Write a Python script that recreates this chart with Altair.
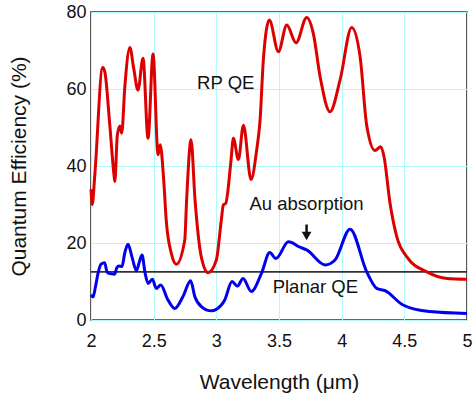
import altair as alt
import pandas as pd

# RP QE (red)
red_x = [2.000, 2.010, 2.030, 2.093, 2.110, 2.150, 2.184, 2.190, 2.210, 2.230,
         2.245, 2.270, 2.310, 2.340, 2.375, 2.415, 2.455, 2.495, 2.535, 2.552,
         2.580, 2.600, 2.641, 2.681, 2.748, 2.763, 2.798, 2.830, 2.880, 2.934,
         3.000, 3.040, 3.056, 3.075, 3.115, 3.136, 3.176, 3.216, 3.277, 3.322,
         3.349, 3.375, 3.423, 3.495, 3.562, 3.636, 3.721, 3.774, 3.828, 3.907,
         3.987, 4.080, 4.147, 4.200, 4.266, 4.312, 4.338, 4.386, 4.440, 4.520,
         4.680, 4.840, 5.000]
red_y = [34.0, 30.0, 37.5, 65.6, 64.5, 50.6, 37.5, 36.0, 48.0, 50.4,
         48.5, 60.6, 70.8, 65.5, 59.7, 68.0, 47.2, 69.1, 42.9, 45.5,
         36.4, 26.0, 17.3, 14.5, 20.8, 31.2, 46.8, 31.2, 16.4, 12.3,
         15.6, 26.0, 29.9, 30.3, 40.7, 47.2, 41.7, 50.6, 36.5, 44.2,
         51.9, 67.5, 77.9, 69.7, 76.6, 72.0, 78.6, 74.4, 63.2, 54.1,
         62.3, 76.0, 68.4, 50.5, 44.0, 45.0, 42.4, 30.3, 21.6, 16.4,
         12.5, 10.8, 10.6]

# Planar QE (blue)
blue_x = [2.000, 2.016, 2.035, 2.056, 2.080, 2.109, 2.125, 2.141, 2.189, 2.205,
          2.221, 2.247, 2.270, 2.295, 2.330, 2.362, 2.385, 2.407, 2.430, 2.455,
          2.490, 2.521, 2.556, 2.614, 2.668, 2.734, 2.795, 2.828, 2.880, 2.960,
          3.040, 3.067, 3.125, 3.168, 3.213, 3.279, 3.360, 3.426, 3.476, 3.575,
          3.668, 3.721, 3.868, 3.947, 4.067, 4.200, 4.280, 4.346, 4.490, 4.700,
          5.000]
blue_y = [6.5, 6.0, 8.5, 12.1, 14.5, 14.9, 12.8, 12.1, 11.9, 13.5,
          14.0, 13.9, 17.5, 19.7, 16.0, 12.8, 15.0, 16.9, 12.5, 9.5,
          10.6, 8.2, 9.1, 5.2, 3.0, 6.1, 10.2, 6.1, 3.5, 2.4,
          3.9, 5.2, 10.0, 8.8, 10.8, 7.4, 12.1, 17.5, 16.0, 20.3,
          18.9, 18.2, 14.3, 15.6, 23.6, 12.5, 8.2, 7.6, 3.9, 2.2,
          1.7]

ref_level = [12.5]
x_ticks = [2, 2.5, 3, 3.5, 4, 4.5, 5]
y_ticks = [0, 20, 40, 60, 80]

label_text = ["RP QE", "Au absorption", "Planar QE"]
label_x = [3.075, 3.72, 3.79]
label_y = [61.5, 30.1, 8.5]

arrow_x = [3.72]
arrow_top = [24.8]
arrow_bottom = [22.0]
arrow_head = [21.8]

FONT = "Liberation Sans"

red_df = pd.DataFrame({"x": red_x, "y": red_y})
blue_df = pd.DataFrame({"x": blue_x, "y": blue_y})
ref_df = pd.DataFrame({"y": ref_level})
lab_df = pd.DataFrame({"x": label_x, "y": label_y, "t": label_text})
arr_df = pd.DataFrame({"x": arrow_x, "y": arrow_top, "y2": arrow_bottom, "h": arrow_head})

xscale = alt.Scale(domain=[2, 5], nice=False, zero=False)
yscale = alt.Scale(domain=[0, 80], nice=False)

xaxis = alt.Axis(values=x_ticks, format="~g", title="Wavelength (μm)",
                 grid=True, gridColor="#b0fafa", gridWidth=1,
                 domain=False, ticks=False, labelFlush=False,
                 labelFontSize=18, labelPadding=12, labelColor="#111",
                 titleFontSize=21, titleFontWeight="normal", titleColor="#111",
                 titleY=68, titleBaseline="alphabetic")
yaxis = alt.Axis(values=y_ticks, format="d", title="Quantum Efficiency (%)",
                 grid=True, gridColor="#b0fafa", gridWidth=1,
                 domain=False, ticks=False,
                 labelFontSize=18, labelPadding=5, labelColor="#111",
                 titleFontSize=21, titleFontWeight="normal", titleColor="#111",
                 titleX=-72, titleY=154, titleAngle=-90,
                 titleAlign="center", titleBaseline="middle")

base_axes = alt.Chart(red_df).mark_line(opacity=0).encode(
    x=alt.X("x:Q", scale=xscale, axis=xaxis),
    y=alt.Y("y:Q", scale=yscale, axis=yaxis),
)

ref_line = alt.Chart(ref_df).mark_rule(color="#333", strokeWidth=1.6).encode(
    y=alt.Y("y:Q", scale=yscale),
    x=alt.value(0), x2=alt.value(376),
)

blue_line = alt.Chart(blue_df).mark_line(color="#0000ee", strokeWidth=3,
                                         interpolate="monotone").encode(
    x=alt.X("x:Q", scale=xscale), y=alt.Y("y:Q", scale=yscale))

red_line = alt.Chart(red_df).mark_line(color="#dd0000", strokeWidth=3,
                                       interpolate="monotone").encode(
    x=alt.X("x:Q", scale=xscale), y=alt.Y("y:Q", scale=yscale))

labels = alt.Chart(lab_df).mark_text(font=FONT, fontSize=18.5, color="#111",
                                     align="center", baseline="middle").encode(
    x=alt.X("x:Q", scale=xscale), y=alt.Y("y:Q", scale=yscale), text="t:N")

arrow_shaft = alt.Chart(arr_df).mark_rule(color="#111", strokeWidth=2.5).encode(
    x=alt.X("x:Q", scale=xscale), y=alt.Y("y:Q", scale=yscale), y2="y2:Q")
arrow_tip = alt.Chart(arr_df).mark_point(shape="triangle-down", filled=True,
                                         color="#111", size=95, opacity=1).encode(
    x=alt.X("x:Q", scale=xscale), y=alt.Y("h:Q", scale=yscale))

chart = alt.layer(base_axes, ref_line, blue_line, red_line, labels,
                  arrow_shaft, arrow_tip).properties(
    width=376, height=308,
    padding={"left": 91, "top": 12, "right": 6, "bottom": 77},
    autosize=alt.AutoSizeParams(type="none"),
    background="white",
).configure(font=FONT).configure_view(stroke="#333", strokeWidth=1.6)

chart.save("out.html", embed_options={"renderer": "svg", "actions": False})
